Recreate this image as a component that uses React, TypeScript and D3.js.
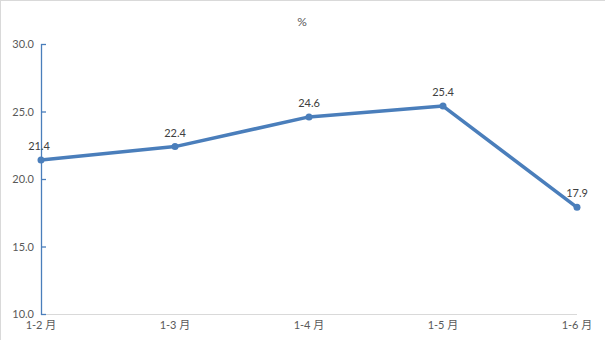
import React from "react";
import * as d3 from "d3";

const categories = ["1-2 月", "1-3 月", "1-4 月", "1-5 月", "1-6 月"];
const values = [21.4, 22.4, 24.6, 25.4, 17.9];
const yTicks = [10, 15, 20, 25, 30];
const unitLabel = "%";

export default function App() {
  const W = 605, H = 340;
  const x = d3.scalePoint<string>().domain(categories).range([41, 577]);
  const y = d3.scaleLinear().domain([10, 30]).range([314, 44]);
  const line = d3.line<number>().x((_, i) => x(categories[i])!).y((d) => y(d));
  const font = "Lato, 'Liberation Sans', 'Noto Sans CJK SC', sans-serif";
  return (
    <svg width={W} height={H} style={{ position: "absolute", left: 0, top: 0, background: "#fff" }}>
      <rect x={0.5} y={0.5} width={W + 10} height={H + 10} fill="#fff" stroke="#d9d9d9" />
      <text x={302} y={26} textAnchor="middle" fontSize={12} fill="#595959" fontFamily={font}>{unitLabel}</text>
      <line x1={41} x2={577} y1={y(10) + 0.5} y2={y(10) + 0.5} stroke="#d9d9d9" />
      <line x1={41.5} x2={41.5} y1={y(30)} y2={y(10) + 1} stroke="#4a7ebb" strokeWidth={1.3} />
      {yTicks.map((t) => (
        <g key={t}>
          <line x1={41} x2={46} y1={y(t) + 0.5} y2={y(t) + 0.5} stroke="#4a7ebb" strokeWidth={1.3} />
          <text x={34} y={y(t) + 4} textAnchor="end" fontSize={11} fill="#595959" fontFamily={font}>{t.toFixed(1)}</text>
        </g>
      ))}
      {categories.map((c) => (
        <text key={c} x={x(c)!} y={329} textAnchor="middle" fontSize={11} fill="#595959" fontFamily={font}>{c}</text>
      ))}
      <path d={line(values)!} fill="none" stroke="#4a7ebb" strokeWidth={3.5} strokeLinejoin="round" />
      {values.map((v, i) => (
        <g key={i}>
          <circle cx={x(categories[i])!} cy={y(v)} r={3.5} fill="#4a7ebb" />
          <text x={x(categories[i])! + (i === 0 ? -2 : 0)} y={y(v) - 10} textAnchor="middle" fontSize={11} fill="#404040" fontFamily={font}>{v.toFixed(1)}</text>
        </g>
      ))}
    </svg>
  );
}
